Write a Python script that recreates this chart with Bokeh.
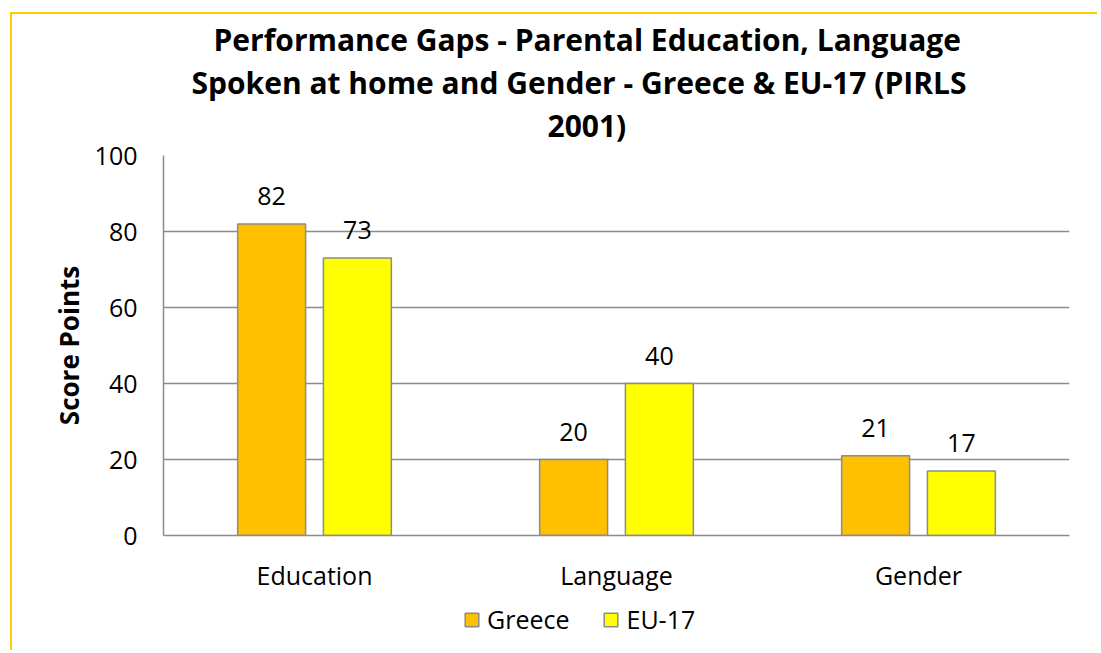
from bokeh.plotting import figure
from bokeh.layouts import column
from bokeh.models import (FactorRange, Range1d, Title, Legend, LegendItem,
                          ColumnDataSource, FixedTicker)
from bokeh.transform import dodge
from bokeh.core.properties import value
from bokeh.embed import file_html
from bokeh.resources import INLINE

categories = ["Education", "Language", "Gender"]
greece = [82, 20, 21]
eu17 = [73, 40, 17]
series_names = ["Greece", "EU-17"]
y_ticks = [0, 20, 40, 60, 80, 100]
title_lines = [
    "Performance Gaps - Parental Education, Language",
    "Spoken at home and Gender - Greece & EU-17 (PIRLS",
    "2001)",
]
y_label = "Score Points"

FONT = "Open Sans"
GRAY = "#8c8c8c"
C_GR = "#FFC000"
C_EU = "#FFFF00"

src = ColumnDataSource(dict(
    cat=categories, greece=greece, eu=eu17,
    greece_t=[str(v) for v in greece], eu_t=[str(v) for v in eu17],
))

p = figure(
    x_range=FactorRange(*categories, range_padding=0),
    y_range=Range1d(0, 100),
    frame_width=906, frame_height=380,
    output_backend="svg", toolbar_location=None,
    min_border_left=151, min_border_right=28,
    min_border_top=141, min_border_bottom=65,
)
p.outline_line_color = None
p.background_fill_color = "white"
p.border_fill_color = "white"

r_gr = p.vbar(x=dodge("cat", -0.142, range=p.x_range), top="greece", width=0.225,
              source=src, fill_color=C_GR, line_color=GRAY, line_width=1.5)
r_eu = p.vbar(x=dodge("cat", 0.142, range=p.x_range), top="eu", width=0.225,
              source=src, fill_color=C_EU, line_color=GRAY, line_width=1.5)

p.text(x=dodge("cat", -0.142, range=p.x_range), y="greece", text="greece_t", source=src,
       text_align="center", text_baseline="alphabetic", y_offset=-28,
       text_font=value(FONT), text_font_size="25px", text_color="black")
p.text(x=dodge("cat", 0.142, range=p.x_range), y="eu", text="eu_t", source=src,
       text_align="center", text_baseline="alphabetic", y_offset=-28,
       text_font=value(FONT), text_font_size="25px", text_color="black")

# grid
p.xgrid.grid_line_color = None
p.ygrid.ticker = FixedTicker(ticks=y_ticks)
p.ygrid.grid_line_color = GRAY
p.ygrid.grid_line_width = 1.5

# axes
p.yaxis.ticker = FixedTicker(ticks=y_ticks)
for ax in (p.xaxis[0], p.yaxis[0]):
    ax.axis_line_color = GRAY
    ax.axis_line_width = 1.5
    ax.major_tick_line_color = None
    ax.minor_tick_line_color = None
    ax.major_tick_out = 0
    ax.major_tick_in = 0
    ax.major_label_text_font = FONT
    ax.major_label_text_font_size = "25px"
    ax.major_label_text_color = "black"
p.yaxis.major_label_standoff = 26
p.xaxis.major_label_standoff = 22
p.yaxis.axis_label = y_label
p.yaxis.axis_label_text_font = FONT
p.yaxis.axis_label_text_font_style = "bold"
p.yaxis.axis_label_text_font_size = "26px"
p.yaxis.axis_label_text_color = "black"
p.yaxis.axis_label_standoff = 5

# title: spacer nearest to the frame, then one Title per line (bottom line first)
p.add_layout(Title(text=" ", text_font_size="1px", standoff=7), "above")
title_offsets = [50, 28, 384]
for txt, off in reversed(list(zip(title_lines, title_offsets))):
    p.add_layout(Title(text=txt, align="left", offset=off, standoff=0,
                       text_font=FONT, text_font_size="30px",
                       text_font_style="bold", text_color="black"), "above")

# legend strip below the chart (its renderers are hidden, only the swatches show)
p2 = figure(width=p.min_border_left + 906 + p.min_border_right, height=50,
            x_range=Range1d(0, 1), y_range=Range1d(0, 1),
            output_backend="svg", toolbar_location=None,
            x_axis_location=None, y_axis_location=None, min_border=0)
p2.outline_line_color = None
p2.xgrid.grid_line_color = None
p2.ygrid.grid_line_color = None
p2.border_fill_color = "white"
lg_gr = p2.vbar(x="greece", top="greece", width=0.1, source=src,
                fill_color=C_GR, line_color=GRAY, line_width=1.5)
lg_eu = p2.vbar(x="eu", top="eu", width=0.1, source=src,
                fill_color=C_EU, line_color=GRAY, line_width=1.5)
lg_gr.visible = False
lg_eu.visible = False

legend = Legend(items=[LegendItem(label=series_names[0], renderers=[lg_gr]),
                       LegendItem(label=series_names[1], renderers=[lg_eu])],
                orientation="horizontal", location=(300, 14),
                label_text_font=FONT, label_text_font_size="25px",
                label_text_color="black",
                glyph_width=17, glyph_height=17, label_standoff=7, spacing=33,
                padding=0, margin=0, border_line_color=None,
                background_fill_alpha=0, inactive_fill_alpha=0)
p2.add_layout(legend, "center")

layout = column(p, p2, spacing=0)
layout.margin = (12, 0, 0, 10)
layout.styles = {"border-top": "2px solid #FFCC00", "border-left": "2px solid #FFCC00"}

open("out.html", "w").write(file_html(layout, INLINE))
